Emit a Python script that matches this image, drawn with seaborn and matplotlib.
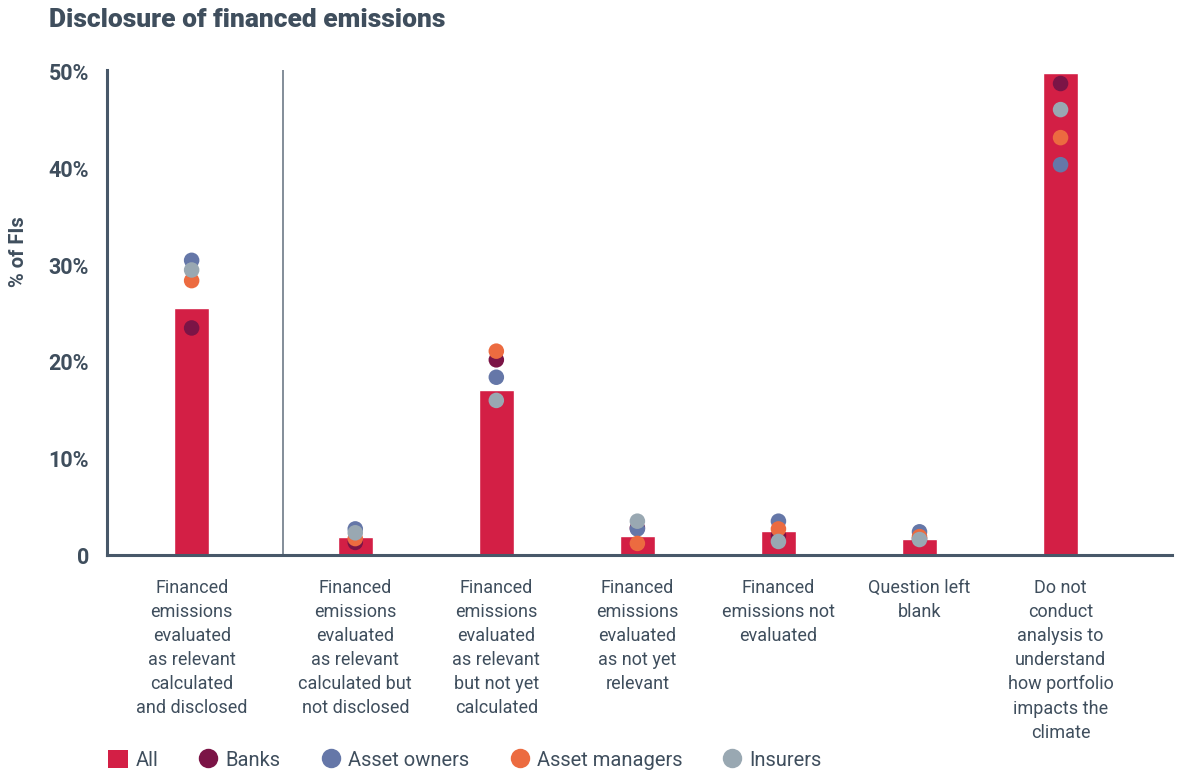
import numpy as np
import pandas as pd
import matplotlib
matplotlib.use("Agg")
import matplotlib.pyplot as plt
from matplotlib.lines import Line2D
from matplotlib.patches import Patch
import seaborn as sns

# ---- data ----
categories = [
    "Financed\nemissions\nevaluated\nas relevant\ncalculated\nand disclosed",
    "Financed\nemissions\nevaluated\nas relevant\ncalculated but\nnot disclosed",
    "Financed\nemissions\nevaluated\nas relevant\nbut not yet\ncalculated",
    "Financed\nemissions\nevaluated\nas not yet\nrelevant",
    "Financed\nemissions not\nevaluated",
    "Question left\nblank",
    "Do not\nconduct\nanalysis to\nunderstand\nhow portfolio\nimpacts the\nclimate",
]
all_fis = [25.6, 1.9, 17.1, 2.0, 2.5, 1.7, 49.9]
banks = [23.5, 1.3, 20.2, 2.8, 2.0, 1.7, 48.8]
asset_owners = [30.5, 2.7, 18.4, 2.7, 3.5, 2.4, 40.4]
asset_managers = [28.4, 1.7, 21.1, 1.2, 2.7, 1.9, 43.2]
insurers = [29.5, 2.3, 16.0, 3.5, 1.4, 1.6, 46.1]
group_names = ["Banks", "Asset owners", "Asset managers", "Insurers"]
y_ticks = [0, 10, 20, 30, 40, 50]
y_tick_labels = ["0", "10%", "20%", "30%", "40%", "50%"]

# ---- styles ----
RED = "#D31F45"
palette = {
    "Banks": "#7B1446",
    "Asset owners": "#6577A8",
    "Asset managers": "#EC6B40",
    "Insurers": "#99A8B2",
}
TEXT = "#3F4E5D"
AXIS = "#485869"

sns.set_theme(style="white")
plt.rcParams["font.family"] = ["Roboto", "DejaVu Sans"]

# first category separated from the rest by a small gap
xpos = [i + (0.16 if i >= 1 else 0.0) for i in range(len(categories))]

fig = plt.figure(figsize=(11.81, 7.71), dpi=100)
ax = fig.add_axes([107 / 1181, 1 - 555 / 771, (1172 - 107) / 1181, (555 - 70) / 771])

bar_df = pd.DataFrame({"x": xpos, "value": all_fis})
sns.barplot(data=bar_df, x="x", y="value", native_scale=True, width=0.25,
            color=RED, saturation=1, ax=ax, zorder=2)

series = {"Banks": banks, "Asset owners": asset_owners,
          "Asset managers": asset_managers, "Insurers": insurers}
rows = []
for g in group_names:
    for x, v in zip(xpos, series[g]):
        rows.append({"x": x, "value": v, "group": g})
dot_df = pd.DataFrame(rows)
sns.scatterplot(data=dot_df, x="x", y="value", hue="group", hue_order=group_names,
                palette=palette, s=125, linewidth=0, ax=ax, zorder=3, legend=False)

# separator between first category and others
ax.axvline(xpos[0] + 0.65, color="#7A8591", lw=1.3, zorder=1)

ax.set_xlim(-0.60, 6.95)
ax.set_ylim(0, 50.2)
ax.set_yticks(y_ticks)
ax.set_yticklabels(y_tick_labels, fontsize=15.5, fontweight="bold", color=TEXT)
ax.set_xticks(xpos)
ax.set_xticklabels(categories, fontsize=13, color=TEXT, linespacing=1.44, va="top")
ax.tick_params(axis="x", length=0, pad=17)
ax.tick_params(axis="y", length=0, pad=13)
ax.set_xlabel("")
ax.set_ylabel("")
for s in ["top", "right"]:
    ax.spines[s].set_visible(False)
ax.spines["left"].set_color(AXIS)
ax.spines["left"].set_linewidth(2.2)
ax.spines["bottom"].set_color(AXIS)
ax.spines["bottom"].set_linewidth(2.2)
ax.grid(False)

fig.text(19 / 1181, 1 - 252 / 771, "% of FIs", rotation=90, fontsize=14.5,
         fontweight="bold", color=TEXT, ha="center", va="center")
fig.text(49 / 1181, 1 - 20 / 771, "Disclosure of financed emissions", fontsize=19,
         fontweight="black", color=TEXT, ha="left", va="center")

handles = [Patch(facecolor=RED, edgecolor="none", label="All")]
for g in group_names:
    handles.append(Line2D([0], [0], marker="o", linestyle="none", markersize=14,
                          markerfacecolor=palette[g], markeredgewidth=0, label=g))
leg = fig.legend(handles=handles, loc="center left", bbox_to_anchor=(100 / 1181, 1 - 760 / 771),
                 ncol=5, frameon=False, fontsize=14.5, handlelength=1.0, handleheight=1.0,
                 handletextpad=0.35, columnspacing=2.0, borderaxespad=0)
for t in leg.get_texts():
    t.set_color(TEXT)

fig.savefig("out.png", dpi=100)
